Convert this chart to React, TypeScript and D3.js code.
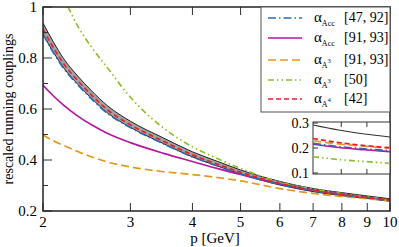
import React from "react";
import * as d3 from "d3";

// momenta (GeV) for the main panel
const momenta = [2, 2.1, 2.2, 2.35, 2.5, 2.7, 3, 3.5, 4, 4.5, 5, 6, 7, 8, 9, 10];
// lattice band (grey area with black edges)
const bandUpper = [0.937, 0.862, 0.798, 0.729, 0.673, 0.612, 0.552, 0.486, 0.432, 0.394, 0.361, 0.316, 0.288, 0.272, 0.259, 0.248];
const bandLower = [0.893, 0.822, 0.762, 0.697, 0.643, 0.584, 0.528, 0.464, 0.412, 0.376, 0.345, 0.302, 0.276, 0.26, 0.249, 0.238];
// alpha_Acc [47, 92]
const accA = [0.893, 0.82, 0.76, 0.695, 0.641, 0.582, 0.527, 0.463, 0.412, 0.376, 0.346, 0.304, 0.279, 0.264, 0.252, 0.242];
// alpha_Acc [91, 93]
const accB = [0.693, 0.651, 0.615, 0.572, 0.539, 0.504, 0.468, 0.426, 0.394, 0.366, 0.343, 0.306, 0.283, 0.266, 0.253, 0.242];
// alpha_A3 [91, 93]
const a3A = [0.498, 0.475, 0.457, 0.433, 0.413, 0.392, 0.373, 0.354, 0.343, 0.331, 0.318, 0.288, 0.269, 0.257, 0.248, 0.241];
// alpha_A4 [42]
const a4 = [0.913, 0.84, 0.778, 0.711, 0.656, 0.596, 0.538, 0.473, 0.42, 0.383, 0.352, 0.308, 0.281, 0.265, 0.253, 0.243];
// alpha_A3 [50] has its own grid, it leaves the frame at the top
const momentaB = [2.246, 2.35, 2.5, 2.7, 3, 3.5, 4, 4.5, 5, 6, 7, 8, 9, 10];
const a3B = [1.0, 0.925, 0.845, 0.76, 0.646, 0.525, 0.452, 0.405, 0.367, 0.313, 0.286, 0.268, 0.255, 0.243];

// inset
const insetP = [9, 19, 29, 39];
const insetBlack = [0.292, 0.272, 0.256, 0.244];
const insetRed = [0.238, 0.222, 0.21, 0.201];
const insetOrange = [0.229, 0.216, 0.207, 0.199];
const insetBlue = [0.219, 0.206, 0.197, 0.189];
const insetMagenta = [0.215, 0.202, 0.193, 0.185];
const insetGreen = [0.165, 0.154, 0.146, 0.139];

const xTicks = [2, 3, 4, 5, 6, 7, 8, 9, 10];
const yTicks = [0.2, 0.4, 0.6, 0.8, 1];
const yMinor = [0.3, 0.5, 0.7, 0.9];
const insetYTicks = [0.1, 0.2, 0.3];
const insetXTicks = [20, 30];

const BLUE = "#2b6cb8";
const MAGENTA = "#b5179e";
const ORANGE = "#e39a1c";
const GREEN = "#8dbf2a";
const RED = "#e5202b";

const dashBlue = "8,3,1.5,3";
const dashOrange = "8,4";
const dashGreen = "6,3,1.5,3,1.5,3";
const dashRed = "5,3";

const legend = [
  { sub: "Acc", sup: "", ref: "[47, 92]", color: BLUE, dash: dashBlue },
  { sub: "Acc", sup: "", ref: "[91, 93]", color: MAGENTA, dash: "" },
  { sub: "A", sup: "3", ref: "[91, 93]", color: ORANGE, dash: dashOrange },
  { sub: "A", sup: "3", ref: "[50]", color: GREEN, dash: dashGreen },
  { sub: "A", sup: "4", ref: "[42]", color: RED, dash: dashRed },
];
const legendY = [18, 38, 60, 80, 99];

export default function App() {
  const left = 43, right = 390, top = 7, bottom = 211;
  const x = d3.scaleLog().domain([2, 10]).range([left, right]);
  const y = d3.scaleLinear().domain([0.2, 1]).range([bottom, top]);

  const line = (ps: number[], vs: number[]) =>
    d3.line<number>().x((_, i) => x(ps[i])).y(v => y(v)).curve(d3.curveMonotoneX)(vs) || "";
  const area = d3.area<number>()
    .x((_, i) => x(momenta[i]))
    .y0((_, i) => y(bandLower[i]))
    .y1(v => y(v))
    .curve(d3.curveMonotoneX)(bandUpper) || "";

  const il = 313, ir = 390, it = 122, ib = 174;
  const ix = d3.scaleLinear().domain([9, 39]).range([il, ir]);
  const iy = d3.scaleLinear().domain([0.1, 0.3]).range([173, 123]);
  const iline = (vs: number[]) =>
    d3.line<number>().x((_, i) => ix(insetP[i])).y(v => iy(v)).curve(d3.curveMonotoneX)(vs) || "";

  const font = "'Liberation Serif', 'DejaVu Serif', serif";
  const sw = 1.7;

  return (
    <svg width={399} height={247} style={{ position: "absolute", left: 0, top: 0, background: "#fff" }} fontFamily={font}>
      <defs>
        <clipPath id="plot"><rect x={left} y={top} width={right - left} height={bottom - top} /></clipPath>
      </defs>
      <g clipPath="url(#plot)">
        <path d={area} fill="#a3a3a3" />
        <path d={line(momenta, bandUpper)} fill="none" stroke="#222" strokeWidth={1} />
        <path d={line(momenta, bandLower)} fill="none" stroke="#222" strokeWidth={1} />
        <path d={line(momenta, accB)} fill="none" stroke={MAGENTA} strokeWidth={sw} />
        <path d={line(momenta, a3A)} fill="none" stroke={ORANGE} strokeWidth={sw} strokeDasharray={dashOrange} />
        <path d={line(momentaB, a3B)} fill="none" stroke={GREEN} strokeWidth={sw} strokeDasharray={dashGreen} />
        <path d={line(momenta, accA)} fill="none" stroke={BLUE} strokeWidth={sw} strokeDasharray={dashBlue} />
        <path d={line(momenta, a4)} fill="none" stroke={RED} strokeWidth={sw} strokeDasharray={dashRed} />
      </g>

      {/* ticks */}
      {xTicks.map(t => (
        <g key={"x" + t}>
          <line x1={x(t)} x2={x(t)} y1={bottom} y2={bottom - 8} stroke="#333" />
          <line x1={x(t)} x2={x(t)} y1={top} y2={top + 8} stroke="#333" />
          <text x={x(t)} y={227} fontSize={15} textAnchor="middle">{t}</text>
        </g>
      ))}
      {yTicks.map(t => (
        <g key={"y" + t}>
          <line x1={left} x2={left + 9} y1={y(t)} y2={y(t)} stroke="#333" />
          <text x={37} y={y(t) + 5} fontSize={15} textAnchor="end">{t === 1 ? "1" : t.toFixed(1)}</text>
        </g>
      ))}
      {yMinor.map(t => (
        <line key={"m" + t} x1={left} x2={left + 5} y1={y(t)} y2={y(t)} stroke="#333" />
      ))}
      <rect x={left} y={top} width={right - left} height={bottom - top} fill="none" stroke="#222" strokeWidth={1.5} />

      <text x={215} y={243} fontSize={15} textAnchor="middle">p [GeV]</text>
      <text transform={`translate(13,${(top + bottom) / 2}) rotate(-90)`} fontSize={14} textAnchor="middle">rescaled running couplings</text>

      {/* legend */}
      <rect x={261} y={top} width={right - 261} height={112 - top} fill="#fff" stroke="#555" strokeWidth={1} />
      {legend.map((d, i) => (
        <g key={"l" + i}>
          <line x1={268} x2={302} y1={legendY[i]} y2={legendY[i]} stroke={d.color} strokeWidth={sw} strokeDasharray={d.dash || undefined} />
          <text x={314} y={legendY[i] + 4} fontSize={15}>
            α<tspan fontSize={8} dy={4}>{d.sub}</tspan>
            {d.sup ? <tspan fontSize={6} dy={-5}>{d.sup}</tspan> : null}
          </text>
          <text x={344} y={legendY[i] + 4} fontSize={14}>{d.ref}</text>
        </g>
      ))}

      {/* inset */}
      <rect x={il} y={it} width={ir - il} height={ib - it} fill="#fff" stroke="#333" strokeWidth={1} />
      <g>
        <path d={iline(insetBlack)} fill="none" stroke="#333" strokeWidth={1.2} />
        <path d={iline(insetMagenta)} fill="none" stroke={MAGENTA} strokeWidth={sw} />
        <path d={iline(insetBlue)} fill="none" stroke={BLUE} strokeWidth={sw} strokeDasharray={dashBlue} />
        <path d={iline(insetOrange)} fill="none" stroke={ORANGE} strokeWidth={sw} strokeDasharray={dashOrange} />
        <path d={iline(insetRed)} fill="none" stroke={RED} strokeWidth={sw} strokeDasharray={dashRed} />
        <path d={iline(insetGreen)} fill="none" stroke={GREEN} strokeWidth={sw} strokeDasharray={dashGreen} />
      </g>
      {insetYTicks.map(t => (
        <g key={"iy" + t}>
          <line x1={il} x2={il + 5} y1={iy(t)} y2={iy(t)} stroke="#333" />
          <text x={309} y={iy(t) + 5} fontSize={14} textAnchor="end">{t.toFixed(1)}</text>
        </g>
      ))}
      {insetXTicks.map(t => (
        <g key={"ix" + t}>
          <line x1={ix(t)} x2={ix(t)} y1={it} y2={it + 5} stroke="#333" />
          <line x1={ix(t)} x2={ix(t)} y1={ib} y2={ib - 5} stroke="#333" />
        </g>
      ))}
    </svg>
  );
}
